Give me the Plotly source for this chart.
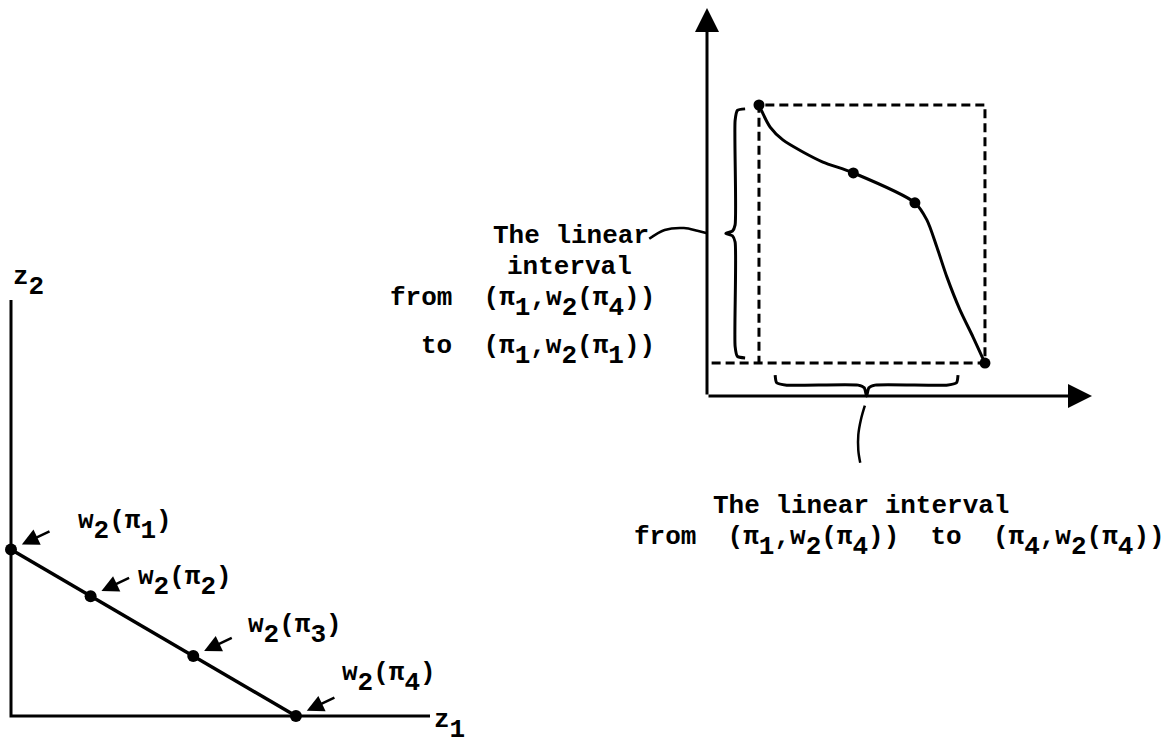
import re

import plotly.graph_objects as go

W, H = 1164, 744
TYPE_FONT = dict(family="Liberation Mono", size=26, color="black", weight="bold")
DROP = 10
SUB = "<span style='baseline-shift:-%dpx'>{}</span>" % DROP

# ---- data -----------------------------------------------------------------
# left panel: the points w2(pi_k) in the (z1, z2) plane
z1_vals = [0.0, 1.9, 4.35, 6.8]
z2_vals = [4.0, 2.88, 1.44, 0.0]
point_names = ["w_2(π_1)", "w_2(π_2)", "w_2(π_3)", "w_2(π_4)"]

# right panel: w2 against pi
pi_vals = [1.35, 3.8, 5.4, 7.22]
w2_vals = [7.5, 5.75, 4.98, 0.85]
curve_pi = [1.35, 1.64, 1.97, 2.49, 3.01, 3.8, 5.4, 5.71, 5.97, 6.23, 6.57, 6.91, 7.22]
curve_w2 = [7.5, 6.93, 6.6, 6.29, 6.03, 5.75, 4.98, 4.54, 3.84, 3.07, 2.22, 1.52, 0.85]

# label placement (pixels, left edge / vertical centre of the typed line)
label_px = [(76, 521), (136, 577), (246, 625), (340, 673)]


def panel(origin, unit, box):
    # ranges + domains so that data (0, 0) sits on pixel `origin`
    ox, oy = origin
    ux, uy = unit
    x0, y0, x1, y1 = box
    xr = [(x0 - ox) / ux, (x1 - ox) / ux]
    yr = [(oy - y1) / uy, (oy - y0) / uy]
    return xr, yr, [x0 / W, x1 / W], [1 - y1 / H, 1 - y0 / H]


def typed(fig, text, x, y, anchor="left"):
    # typewriter style: "_" lowers the next character by half a line
    txt = re.sub(r"_(.)", lambda m: SUB.format(m.group(1)), text.replace(" ", "\u00a0"))
    if "_" in text:
        y += DROP / 2  # the lowered glyphs stretch the box downwards
    fig.add_annotation(text=txt, x=x / W, y=1 - y / H, xref="paper", yref="paper",
                       xanchor=anchor, yanchor="middle", showarrow=False, font=TYPE_FONT)


def brace_v(x, lo, hi, hook=0.26, tip=0.24):
    mid = (lo + hi) / 2
    xs = [x + hook, x + 0.06, x, x, x - 0.07, x - tip, x - 0.07, x, x, x + 0.06, x + hook]
    ys = [hi, hi - 0.04, hi - 0.3, mid + 0.22, mid + 0.06, mid, mid - 0.06, mid - 0.22,
          lo + 0.3, lo + 0.04, lo]
    return xs, ys


def brace_h(y, lo, hi, hook=0.26, tip=0.28):
    mid = (lo + hi) / 2
    xs = [lo, lo + 0.04, lo + 0.3, mid - 0.22, mid - 0.06, mid, mid + 0.06, mid + 0.22,
          hi - 0.3, hi - 0.04, hi]
    ys = [y + hook, y + 0.06, y, y, y - 0.07, y - tip, y - 0.07, y, y, y + 0.06, y + hook]
    return xs, ys


fig = go.Figure()
line = dict(color="black", width=3)

# ---- left panel -------------------------------------------------------------
fig.add_trace(go.Scatter(x=[0, 0, 10], y=[10, 0, 0], mode="lines", line=line,
                         xaxis="x", yaxis="y"))
fig.add_trace(go.Scatter(x=z1_vals, y=z2_vals, mode="lines+markers",
                         line=dict(color="black", width=3.5),
                         marker=dict(size=12, color="black"), xaxis="x", yaxis="y"))
for zx, zy in zip(z1_vals, z2_vals):
    fig.add_annotation(x=zx, y=zy, xref="x", yref="y", ax=40, ay=-19, text="",
                       showarrow=True, arrowhead=2, arrowsize=1.35, arrowwidth=2.5,
                       standoff=12, arrowcolor="black")
for name, (lx, ly) in zip(point_names, label_px):
    typed(fig, name, lx, ly)
typed(fig, "z_2", 11, 277)
typed(fig, "z_1", 432, 720)

# ---- right panel ------------------------------------------------------------
x2 = dict(xaxis="x2", yaxis="y2")
p0, p3 = pi_vals[0], pi_vals[-1]
w_top, w_bot = w2_vals[0], w2_vals[-1]

# dashed rectangle spanned by the first and last point
fig.add_trace(go.Scatter(x=[0.12, p3, p3, p0, p0], y=[w_bot, w_bot, w_top, w_top, w_bot],
                         mode="lines", line=dict(color="black", width=3, dash="9px,5px"), **x2))
fig.add_trace(go.Scatter(x=curve_pi, y=curve_w2, mode="lines",
                         line=dict(color="black", width=3, shape="spline", smoothing=0.8), **x2))
fig.add_trace(go.Scatter(x=pi_vals, y=w2_vals, mode="markers",
                         marker=dict(size=11, color="black"), **x2))

bx, by = brace_v(0.73, w_bot + 0.13, w_top - 0.1)
fig.add_trace(go.Scatter(x=bx, y=by, mode="lines",
                         line=dict(color="black", width=3, shape="spline", smoothing=0.6), **x2))
bx, by = brace_h(0.28, p0 + 0.42, p3 - 0.7)
fig.add_trace(go.Scatter(x=bx, y=by, mode="lines",
                         line=dict(color="black", width=3, shape="spline", smoothing=0.6), **x2))

# leader strokes to the two captions
fig.add_trace(go.Scatter(x=[4.1, 4.0, 3.93, 3.93, 3.98], y=[-0.25, -0.6, -1.0, -1.4, -1.72],
                         mode="lines", line=dict(color="black", width=2.5, shape="spline"), **x2))
fig.add_trace(go.Scatter(x=[-1.5, -1.1, -0.6, -0.25, -0.02], y=[4.05, 4.28, 4.33, 4.26, 4.2],
                         mode="lines", line=dict(color="black", width=2.5, shape="spline"), **x2))

# axes with arrow heads
for tx, ty in ((0, 10), (10, 0)):
    fig.add_annotation(x=tx, y=ty, ax=0, ay=0, xref="x2", yref="y2", axref="x2", ayref="y2",
                       text="", showarrow=True, arrowhead=2, arrowsize=1.6, arrowwidth=3,
                       arrowcolor="black")

typed(fig, "The linear", 571, 236, anchor="center")
typed(fig, "interval", 569, 267, anchor="center")
typed(fig, "from  (π_1,w_2(π_4))", 657, 298, anchor="right")
typed(fig, "to  (π_1,w_2(π_1))", 657, 346, anchor="right")
typed(fig, "The linear interval", 861, 506, anchor="center")
typed(fig, "from  (π_1,w_2(π_4))  to  (π_4,w_2(π_4))", 632, 537)

# ---- layout -----------------------------------------------------------------
lxr, lyr, lxd, lyd = panel((11, 716), (41.9, 41.6), (0, 250, 470, 744))
rxr, ryr, rxd, ryd = panel((707, 396), (38.5, 38.8), (600, 0, 1110, 480))
hidden = dict(visible=False, fixedrange=True)
fig.update_layout(
    width=W, height=H,
    margin=dict(l=0, r=0, t=0, b=0),
    paper_bgcolor="white", plot_bgcolor="rgba(0,0,0,0)",
    showlegend=False,
    xaxis=dict(range=lxr, domain=lxd, **hidden),
    yaxis=dict(range=lyr, domain=lyd, **hidden),
    xaxis2=dict(range=rxr, domain=rxd, anchor="y2", **hidden),
    yaxis2=dict(range=ryr, domain=ryd, anchor="x2", **hidden),
)

# the page body has an 8px default margin; drop it so the figure fills the window
fig.write_html("out.html", config={"displayModeBar": False},
               post_script="document.body.style.margin='0';")
